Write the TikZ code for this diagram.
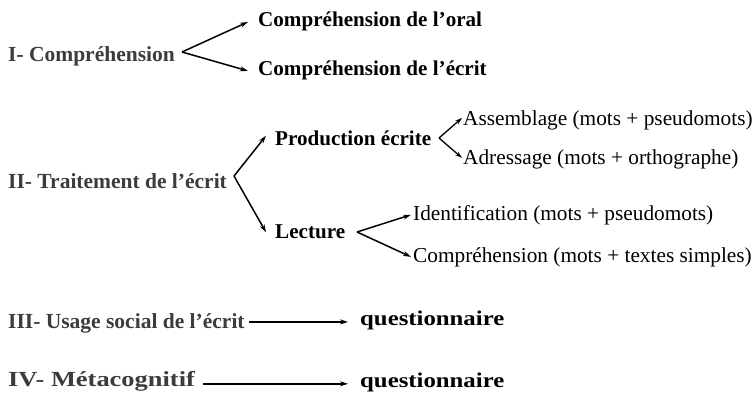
\documentclass[tikz,border=0pt]{standalone}
\usepackage{fontspec}
\setmainfont{Liberation Serif}
\usetikzlibrary{arrows.meta}
\definecolor{headgray}{HTML}{3C3C3C}
\tikzset{
  txt/.style={anchor=base west, inner sep=0pt, font=\fontsize{21.3}{24}\selectfont},
  head/.style={txt, font=\fontsize{21.5}{24}\selectfont\bfseries, text=headgray},
  sub/.style={txt, font=\fontsize{21.1}{24}\selectfont\bfseries, text=black},
  subwide/.style={txt, font=\fontsize{21}{24}\selectfont\bfseries\addfontfeature{FakeStretch=1.18}, text=black},
  headwide/.style={head, font=\fontsize{21.5}{24}\selectfont\bfseries\addfontfeature{FakeStretch=1.23}},
  leaf/.style={txt, text=black},
  arr/.style={line width=1.5pt, -{Stealth[length=8pt,width=5pt]}},
  sarr/.style={line width=1.3pt, -{Stealth[length=7pt,width=4.5pt]}}
}
\begin{document}
\begin{tikzpicture}[x=1pt,y=-1pt]
\useasboundingbox (0,0) rectangle (756,392);
% I
\node[head] (I) at (8,61) {I- Compréhension};
\node[sub] (oral) at (258,26) {Compréhension de l’oral};
\node[sub] (ecr) at (258,75) {Compréhension de l’écrit};
\coordinate (v1) at (182,52);
\draw[arr] (v1) -- ([xshift=-10pt,yshift=-1pt]oral.west);
\draw[arr] (v1) -- ([xshift=-10pt,yshift=-1pt]ecr.west);
% II
\node[head] (II) at (8,188) {II- Traitement de l’écrit};
\node[sub] (prod) at (275,145) {Production écrite};
\node[sub] (lect) at (275,238) {Lecture};
\coordinate (v2) at (234,176);
\draw[arr] (v2) -- ([xshift=-9pt,yshift=2pt]prod.west);
\draw[arr] (v2) -- ([xshift=-9pt,yshift=-1pt]lect.west);
% Production
\node[leaf] (ass) at (463,125) {Assemblage (mots + pseudomots)};
\node[leaf] (adr) at (463,164) {Adressage (mots + orthographe)};
\coordinate (v3) at (439,138);
\draw[sarr] (v3) -- ([xshift=-1pt,yshift=2pt]ass.west);
\draw[sarr] (v3) -- ([xshift=-1pt,yshift=1pt]adr.west);
% Lecture
\node[leaf] (ident) at (413,220) {Identification (mots + pseudomots)};
\node[leaf] (compr) at (413,262) {Compréhension (mots + textes simples)};
\coordinate (v4) at (357,232);
\draw[arr] (v4) -- ([xshift=-2pt]ident.west);
\draw[arr] (v4) -- ([xshift=-2pt]compr.west);
% III
\node[head] (III) at (8,328) {III- Usage social de l’écrit};
\node[subwide] (q1) at (360,325) {questionnaire};
\coordinate (s3) at ([xshift=4pt,yshift=1pt]III.east);
\coordinate (e3) at ([xshift=-12pt]q1.west);
\draw[arr] (s3) -- (s3 -| e3);
% IV
\node[headwide] (IV) at (8,386) {IV- Métacognitif};
\node[subwide] (q2) at (360,387) {questionnaire};
\coordinate (s4) at ([xshift=8pt,yshift=-3pt]IV.east);
\coordinate (e4) at ([xshift=-12pt]q2.west);
\draw[arr] (s4) -- (s4 -| e4);
\end{tikzpicture}
\end{document}
